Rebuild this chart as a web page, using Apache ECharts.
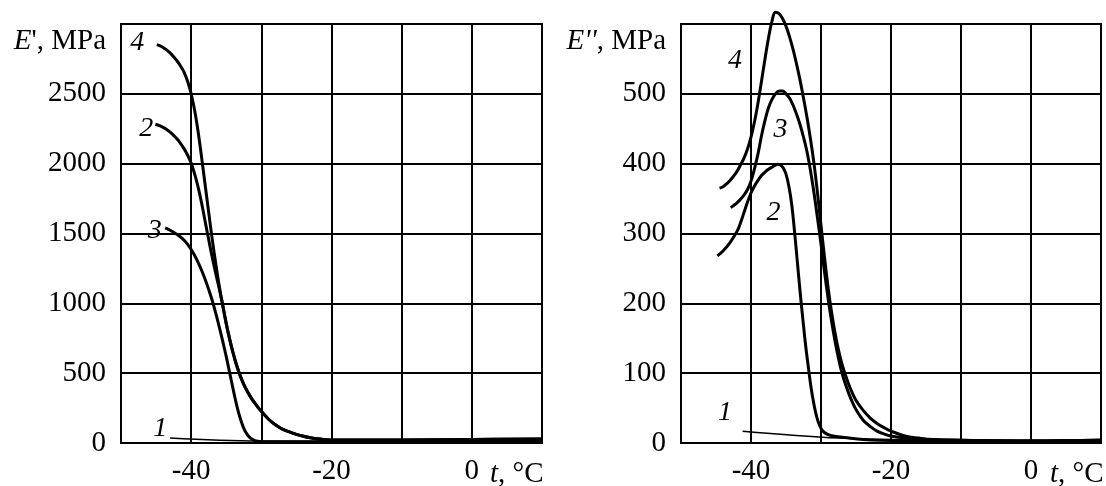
<!DOCTYPE html>
<html>
<head>
<meta charset="utf-8">
<script src="https://cdn.jsdelivr.net/npm/echarts@6/dist/echarts.min.js"></script>
<style>
  html, body { margin: 0; padding: 0; background: #fff; }
  #chart { width: 1106px; height: 486px; }
</style>
</head>
<body>
<div id="chart"></div>
<script>
// 数据 (t, °C ; MPa)

// 左图 E'
var leftCurve1 = [[-43, 36], [-30.2, 14], [-20, 12], [-10, 15], [0, 18], [10, 22]];
var leftCurve2 = [[-45.1, 2282], [-44.5, 2272], [-44, 2260], [-43.5, 2245], [-43, 2226], [-42.5, 2203],
    [-42, 2176], [-41.5, 2144], [-41, 2106], [-40.5, 2060], [-40, 2004], [-39.5, 1925], [-39, 1830],
    [-38.5, 1715], [-38, 1585], [-37.5, 1455], [-37, 1330], [-36.5, 1215], [-36, 1105], [-35.5, 985],
    [-35, 855], [-34.5, 740], [-34, 640], [-33.5, 553], [-33, 480], [-32.5, 420], [-32, 370],
    [-31.5, 327], [-31, 290], [-30.5, 257], [-30, 227], [-29.5, 198], [-29, 172], [-28.5, 150],
    [-28, 131], [-27.5, 114], [-27, 100], [-26, 79], [-25, 62], [-24, 48], [-23, 37], [-22, 30],
    [-21, 25], [-20, 21], [-10, 22], [0, 25], [10, 28]];
var leftCurve3 = [[-43.7, 1540], [-43, 1523], [-42, 1493], [-41.5, 1474], [-41, 1452], [-40.5, 1422],
    [-40, 1385], [-39.5, 1342], [-39, 1292], [-38.5, 1235], [-38, 1170], [-37.5, 1098], [-37, 1020],
    [-36.5, 930], [-36, 832], [-35.5, 728], [-35, 618], [-34.5, 500], [-34, 380], [-33.5, 268],
    [-33, 175], [-32.5, 105], [-32, 60], [-31.5, 33], [-31, 19], [-30.5, 12], [-30, 10],
    [-25, 9], [-20, 10], [-10, 12], [0, 15], [10, 18]];
var leftCurve4 = [[-44.9, 2852], [-44.5, 2845], [-44, 2832], [-43.5, 2815], [-43, 2793], [-42.5, 2766],
    [-42, 2735], [-41.5, 2698], [-41, 2654], [-40.5, 2588], [-40, 2500], [-39.5, 2380], [-39, 2225],
    [-38.5, 2040], [-38, 1845], [-37.5, 1650], [-37, 1460], [-36.5, 1285], [-36, 1125], [-35.5, 985],
    [-35, 855], [-34.5, 740], [-34, 640], [-33.5, 553], [-33, 480], [-32.5, 420], [-32, 370],
    [-31.5, 327], [-31, 290], [-30.5, 257], [-30, 227], [-29.5, 198], [-29, 172], [-28.5, 150],
    [-28, 131], [-27.5, 114], [-27, 100], [-26, 79], [-25, 62], [-24, 48], [-23, 37], [-22, 30],
    [-21, 25], [-20, 21], [-10, 22], [0, 25], [10, 28]];

// 右图 E''
var rightCurve1 = [[-41.2, 17], [-27.3, 7], [-20, 5], [-10, 3], [0, 3], [10, 4]];
var rightCurve2 = [[-44.8, 268], [-44, 275], [-43, 287], [-42, 303], [-41.4, 318], [-41, 330], [-40.5, 345],
    [-40, 358], [-39.5, 368], [-39, 376], [-38.5, 383], [-38, 388], [-37.5, 392], [-37, 395], [-36.5, 398],
    [-36.2, 399], [-35.8, 398], [-35.4, 394], [-35, 385], [-34.6, 368], [-34.2, 343], [-33.8, 305],
    [-33.4, 262], [-33, 218], [-32.6, 178], [-32.2, 140], [-31.8, 108], [-31.4, 78], [-31, 55],
    [-30.6, 37], [-30.2, 25], [-29.8, 18], [-29.2, 13], [-28.3, 10], [-26, 7], [-24, 5], [-21.6, 4],
    [-10, 3], [0, 3], [10, 4]];
var rightCurve3 = [[-42.9, 337], [-42.5, 340], [-42, 344], [-41.5, 349], [-41, 355], [-40.5, 363], [-40, 375],
    [-39.5, 393], [-39, 414], [-38.5, 440], [-38, 462], [-37.5, 480], [-37, 492], [-36.5, 500], [-36, 504],
    [-35.5, 504], [-35, 500], [-34.5, 494], [-34, 484], [-33.5, 471], [-33, 456], [-32.5, 438], [-32, 417],
    [-31.5, 390], [-31, 358], [-30.5, 322], [-30, 285], [-29.5, 245], [-29, 208], [-28.5, 175], [-28, 146],
    [-27.5, 121], [-27, 100], [-26.5, 84], [-26, 70], [-25.5, 58], [-25, 48], [-24, 33], [-23, 24],
    [-22, 17], [-21, 13], [-20, 10], [-18, 7], [-15, 5], [-10, 4], [0, 3], [10, 4]];
var rightCurve4 = [[-44.5, 365], [-44, 367], [-43.5, 371], [-43, 376], [-42.5, 382], [-42, 389], [-41.5, 398],
    [-41, 408], [-40.5, 421], [-40, 438], [-39.5, 460], [-39, 487], [-38.5, 518], [-38, 550], [-37.5, 580],
    [-37, 604], [-36.5, 617], [-36, 615], [-35.5, 608], [-35, 597], [-34.5, 582], [-34, 564], [-33.5, 543],
    [-33, 520], [-32.5, 494], [-32, 466], [-31.5, 435], [-31, 400], [-30.5, 358], [-30, 312], [-29.5, 266],
    [-29, 224], [-28.5, 188], [-28, 158], [-27.5, 133], [-27, 113], [-26.5, 97], [-26, 83], [-25.5, 71],
    [-25, 61], [-24, 47], [-23, 36], [-22, 28], [-21, 22], [-20, 17], [-18, 10], [-16, 7], [-14, 5],
    [-10, 4], [0, 3], [10, 4]];

// 曲线编号的位置
var leftTags = [['1', -44.4, 106], ['2', -46.4, 2248], ['3', -45.2, 1524], ['4', -47.7, 2864]];
var rightTags = [['1', -43.7, 43], ['2', -36.8, 330], ['3', -35.8, 449], ['4', -42.3, 548]];

// 坐标轴
var xMin = -50, xMax = 10, xStep = 10;
var xLabels = [-40, -20, 0];
var leftYMax = 3000, leftYStep = 500;
var rightYMax = 600, rightYStep = 100;

var serif = '"Liberation Serif", "DejaVu Serif", serif';

var myChart = echarts.init(document.getElementById('chart'));

function xAxisCfg(gridIndex) {
    return {
        type: 'value', gridIndex: gridIndex, min: xMin, max: xMax, interval: xStep,
        axisLine: { show: true, lineStyle: { color: '#000', width: 2 } },
        axisTick: { show: false },
        splitLine: { show: true, lineStyle: { color: '#000', width: 2 } },
        axisLabel: {
            color: '#000', fontFamily: serif, fontSize: 29, margin: 14,
            formatter: function (v) { return xLabels.indexOf(v) >= 0 ? String(v) : ''; }
        }
    };
}

function yAxisCfg(gridIndex, max, step) {
    return {
        type: 'value', gridIndex: gridIndex, min: 0, max: max, interval: step,
        axisLine: { show: true, lineStyle: { color: '#000', width: 2 } },
        axisTick: { show: false },
        splitLine: { show: true, lineStyle: { color: '#000', width: 2 } },
        axisLabel: {
            color: '#000', fontFamily: serif, fontSize: 29, margin: 15,
            formatter: function (v) { return v === max ? '' : String(v); }
        }
    };
}

function line(data, xi, width, tag) {
    return {
        type: 'line', xAxisIndex: xi, yAxisIndex: xi, data: data,
        smooth: 0.4, showSymbol: false, symbol: 'none', clip: false,
        lineStyle: { color: '#000', width: width },
        markPoint: {
            symbol: 'circle', symbolSize: 0, silent: true,
            label: { show: true, position: 'inside', color: '#000', fontFamily: serif, fontStyle: 'italic', fontSize: 28,
                formatter: function (p) { return p.name; } },
            data: [{ name: tag[0], coord: [tag[1], tag[2]] }]
        }
    };
}

var nameRich = {
    i: { fontFamily: serif, fontStyle: 'italic', fontSize: 29, fill: '#000' },
    n: { fontFamily: serif, fontSize: 29, fill: '#000' }
};

var option = {
    backgroundColor: '#fff',
    animation: false,
    grid: [
        { left: 121, right: 564, top: 24, bottom: 39, show: true, borderColor: '#000', borderWidth: 2 },
        { left: 681, right: 5, top: 24, bottom: 38, show: true, borderColor: '#000', borderWidth: 2 }
    ],
    xAxis: [xAxisCfg(0), xAxisCfg(1)],
    yAxis: [yAxisCfg(0, leftYMax, leftYStep), yAxisCfg(1, rightYMax, rightYStep)],
    series: [
        line(leftCurve1, 0, 1.5, leftTags[0]),
        line(leftCurve2, 0, 3, leftTags[1]),
        line(leftCurve3, 0, 3, leftTags[2]),
        line(leftCurve4, 0, 3, leftTags[3]),
        line(rightCurve1, 1, 1.5, rightTags[0]),
        line(rightCurve2, 1, 3, rightTags[1]),
        line(rightCurve3, 1, 3, rightTags[2]),
        line(rightCurve4, 1, 3, rightTags[3])
    ],
    // 坐标轴名称
    graphic: [
        { type: 'text', right: 1000, top: 27, style: { text: "{i|E}{n|', MPa}", rich: nameRich } },
        { type: 'text', right: 440, top: 27, style: { text: "{i|E''}{n|, MPa}", rich: nameRich } },
        { type: 'text', left: 490, top: 460, style: { text: '{i|t}{n|, °C}', rich: nameRich } },
        { type: 'text', left: 1050, top: 460, style: { text: '{i|t}{n|, °C}', rich: nameRich } }
    ]
};

myChart.setOption(option);
</script>
</body>
</html>
